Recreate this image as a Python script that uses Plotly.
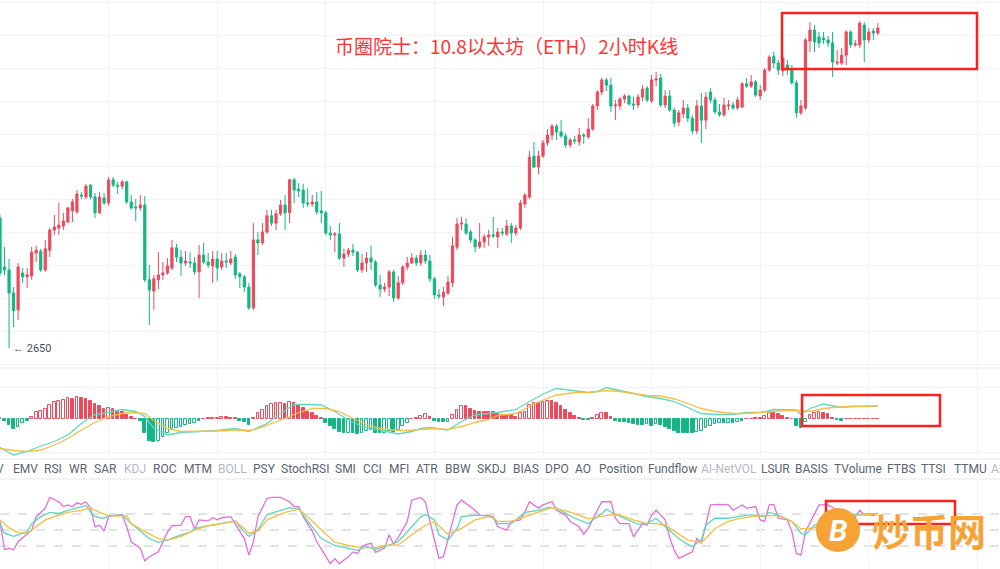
import plotly.graph_objects as go

# ---------------- data ----------------
idx = list(range(195))

opens = [3045,2897,2888,2818,2767,2879,2867,2870,2939,2945,2888,2948,3009,3015,3021,3033,3067,3064,3115,3109,
         3145,3109,3061,3106,3091,3161,3145,3142,3155,3094,3079,3076,3085,2858,2824,2858,2873,2879,2894,2955,
         2927,2909,2912,2909,2882,2933,2912,2900,2921,2897,2915,2909,2927,2876,2867,2836,2773,2979,2970,3003,
         3052,3030,3058,3085,3061,3161,3133,3130,3091,3088,3094,3067,3061,3000,2994,2997,2924,2936,2948,2942,
         2888,2909,2924,2912,2842,2830,2836,2882,2803,2849,2897,2909,2924,2909,2933,2915,2861,2812,2806,2818,
         2849,2957,3027,3027,3003,2979,2958,2973,2988,2994,2988,3003,2997,3021,3000,3015,3088,3109,3233,3200,
         3233,3273,3297,3324,3306,3294,3267,3282,3276,3297,3291,3315,3385,3427,3464,3448,3385,3385,3406,3415,
         3391,3388,3412,3439,3400,3464,3470,3388,3415,3373,3336,3361,3379,3348,3309,3385,3342,3427,3403,3367,
         3358,3385,3388,3379,3382,3452,3445,3458,3415,3433,3494,3536,3515,3491,3509,3494,3455,3364,3379,3582,
         3615,3594,3591,3585,3576,3515,3515,3539,3609,3570,3570,3630,3585,3612,3606]
highs = [3055,2958,2921,2836,2909,2894,2894,2958,2961,2952,2979,3015,3055,3091,3061,3079,3103,3130,3124,3149,
         3149,3121,3124,3121,3170,3170,3155,3161,3158,3115,3103,3115,3112,2903,2873,2942,2912,2924,2979,2967,
         2948,2945,2942,2927,2964,2970,2939,2945,2945,2939,2939,2945,2936,2882,2873,2849,3030,3003,3030,3070,
         3070,3070,3100,3115,3164,3167,3152,3149,3136,3115,3124,3127,3067,3021,3003,3030,2952,2955,2967,2945,
         2936,2942,2961,2918,2873,2849,2888,2888,2870,2903,2927,2939,2933,2948,2948,2933,2867,2830,2836,2870,
         2988,3045,3049,3045,3009,2985,3030,2997,3009,3049,3015,3015,3039,3030,3024,3100,3121,3249,3276,3249,
         3282,3315,3330,3330,3342,3303,3288,3294,3318,3303,3348,3391,3433,3470,3470,3470,3403,3412,3421,3418,
         3412,3421,3448,3445,3479,3488,3482,3433,3433,3379,3373,3403,3391,3358,3403,3424,3427,3439,3412,3391,
         3409,3403,3397,3412,3458,3470,3479,3464,3449,3500,3539,3549,3524,3533,3524,3509,3464,3403,3591,3639,
         3630,3609,3609,3597,3609,3555,3561,3615,3615,3585,3642,3639,3621,3621,3636]
lows = [2870,2873,2651,2715,2736,2849,2833,2858,2912,2882,2882,2927,2994,2994,3009,3030,3033,3058,3103,3103,
        3103,3045,3058,3085,3082,3139,3118,3133,3088,3070,3036,3067,2851,2721,2767,2830,2858,2873,2888,2912,
        2870,2900,2894,2873,2803,2906,2894,2849,2855,2888,2894,2903,2861,2833,2821,2767,2767,2933,2964,2997,
        3021,3009,3052,3009,3030,3091,3109,3076,3079,3079,3055,3030,2994,2979,2942,2918,2897,2927,2930,2882,
        2879,2882,2888,2836,2806,2821,2809,2791,2797,2842,2888,2906,2900,2900,2906,2851,2800,2800,2779,2812,
        2836,2948,3009,2994,2970,2942,2952,2955,2961,2985,2955,2991,2991,2970,2991,3009,3076,3103,3197,3179,
        3227,3264,3282,3282,3288,3258,3258,3270,3264,3270,3285,3309,3373,3418,3430,3367,3342,3373,3394,3385,
        3373,3379,3400,3397,3394,3445,3382,3379,3367,3321,3324,3348,3336,3300,3300,3273,3315,3394,3361,3352,
        3352,3373,3373,3373,3379,3439,3439,3412,3403,3427,3488,3500,3479,3476,3479,3449,3349,3358,3373,3549,
        3549,3561,3573,3564,3473,3509,3509,3509,3561,3564,3561,3518,3576,3585,3600]
closes = [2879,2888,2818,2764,2897,2867,2873,2942,2948,2888,2952,3009,3018,3024,3036,3076,3094,3118,3112,3142,
          3109,3061,3109,3091,3161,3145,3142,3155,3094,3076,3076,3085,2858,2827,2861,2873,2879,2900,2955,2927,
          2909,2915,2909,2882,2933,2912,2903,2921,2894,2915,2912,2921,2873,2867,2836,2773,2979,2970,3003,3052,
          3030,3058,3085,3061,3161,3130,3127,3091,3088,3094,3064,3061,3000,2994,2997,2924,2936,2948,2942,2888,
          2909,2924,2912,2842,2830,2836,2882,2803,2849,2897,2909,2924,2909,2933,2915,2861,2812,2809,2821,2851,
          2961,3027,3030,3000,2979,2958,2973,2988,2994,2991,3003,3000,3021,3000,3015,3091,3115,3230,3200,3233,
          3273,3297,3324,3306,3294,3267,3282,3279,3297,3294,3315,3385,3427,3464,3448,3385,3388,3406,3415,3391,
          3388,3412,3436,3403,3464,3467,3388,3415,3373,3333,3364,3379,3348,3309,3385,3342,3412,3403,3367,3358,
          3388,3388,3379,3403,3452,3445,3458,3418,3433,3494,3533,3515,3494,3530,3494,3455,3364,3385,3585,3615,
          3579,3576,3585,3576,3518,3518,3539,3609,3570,3573,3636,3585,3609,3606,3621]

# MACD (histogram per candle, DIF / DEA read at sampled candles)
macd_hist = [3,-3,-11,-20,-15,-8,-3,5,14,17, 21,29,34,37,39,42,41,44,42,41,
             37,30,27,20,23,20,17,14,9,4, 1,-3,-27,-43,-45,-43,-35,-28,-20,-18,
             -15,-11,-9,-8,-3,1,2,3,3,5, 4,3,3,-3,-5,-11,3,12,19,27,
             30,32,33,30,35,33,29,22,15,12, 7,2,-8,-13,-20,-25,-28,-27,-27,-29,
             -27,-23,-21,-27,-28,-27,-23,-25,-21,-13, -8,1,3,7,11,5,-3,-6,-6,-5,
             9,19,27,27,20,17,15,15,15,14, 11,9,9,9,5,13,15,29,32,32,
             35,37,37,33,27,19,13,7,3,-1, -1,3,9,12,12,5,-3,-5,-5,-8,
             -9,-11,-11,-10,-13,-10,-11,-15,-20,-23, -27,-28,-28,-28,-25,-23,-18,-13,-9,-8,
             -8,-7,-7,-5,-3,1,1,3,2,7, 12,12,10,7,3,1,-13,-18,-5,9,
             12,14,13,10,3,-2,-3,1,1,1, 1,1,1,1,1]
dif_x = [0,3,6,9,12,15,18,21,24,27,30,32,34,37,40,44,48,52,55,56,59,62,65,68,71,74,77,80,83,85,
         88,91,93,95,97,99,102,105,108,110,114,117,120,123,127,130,132,134,137,140,143,146,149,152,155,158,162,165,168,171,
         174,176,177,179,182,184,186,188,190,194]
dif_v = [-57,-72,-65,-54,-45,-32,-9,9,13,19,15,5,-19,-32,-27,-25,-23,-19,-25,-21,-9,11,29,29,28,15,-2,-15,-21,-25,
         -30,-25,-19,-17,-20,-22,-5,8,11,13,19,35,50,61,57,53,55,63,57,51,45,41,35,23,11,9,9,13,13,19,
         19,18,9,21,30,26,23,25,25,26]
dea_x = [0,3,6,9,12,15,18,21,24,27,29,32,34,37,40,44,48,52,55,57,60,63,66,69,72,75,78,81,84,87,
         90,93,96,99,102,105,108,110,114,117,120,123,127,130,134,137,140,143,146,149,152,155,158,162,165,168,171,174,177,179,
         182,184,188,191,194]
dea_v = [-59,-63,-65,-62,-52,-39,-22,-7,5,11,13,11,-3,-19,-25,-25,-24,-22,-23,-19,-9,1,13,21,21,15,1,-11,-19,-22,
         -23,-21,-19,-21,-15,-7,-1,7,11,25,38,48,53,53,57,55,51,47,46,40,31,21,15,11,11,13,15,17,17,15,
         21,23,25,25,26]

# KDJ
k_x = [0,1,3,4,6,7,9,11,13,15,17,19,20,21,23,24,27,29,31,33,35,37,40,42,43,46,49,52,53,55,
       57,59,62,64,66,67,69,71,74,77,79,81,83,85,88,91,93,94,96,97,99,101,102,105,108,109,110,113,114,116,
       119,121,123,125,127,130,131,133,134,136,138,141,143,145,147,150,152,153,155,156,158,161,163,166,169,170,172,175,177,178,
       180,183,186,189,192,194]
k_v = [62,44,38,41,47,62,75,83,81,87,91,96,84,75,72,77,78,62,48,34,27,31,41,46,53,58,62,67,56,38,
       50,79,87,92,89,78,58,34,21,16,12,19,14,19,28,56,75,79,69,41,31,53,75,78,76,72,62,62,69,83,
       87,92,91,81,72,62,69,81,89,79,72,61,62,72,56,34,23,19,31,59,72,72,75,79,75,83,78,66,44,41,
       59,72,78,79,79,81]
d_x = [0,2,4,6,8,10,13,15,18,20,22,24,26,28,29,32,35,37,40,43,46,49,52,54,55,57,59,63,66,68,
       71,74,77,80,83,85,88,91,94,96,98,99,102,105,108,109,110,113,116,119,122,125,128,130,133,135,137,140,143,145,
       147,150,152,155,156,158,161,163,166,169,172,175,177,180,182,184,187,190,194]
d_v = [69,54,45,44,56,69,78,83,87,91,83,77,76,77,62,47,34,31,38,50,58,62,66,53,44,48,69,83,89,75,
       50,27,21,17,17,21,22,41,59,66,50,42,53,69,75,73,66,66,75,84,92,86,78,71,75,79,78,69,62,62,
       59,42,31,27,34,53,66,71,75,77,77,66,52,54,66,72,76,78,80]
j_x = [0,1,2,3,4,7,8,10,11,13,14,15,16,17,18,19,20,21,22,23,24,25,26,27,28,29,31,32,33,35,
       36,37,38,40,41,42,43,44,46,47,48,49,51,52,54,55,56,57,59,60,62,64,65,66,67,69,70,73,74,75,
       77,78,79,80,81,82,83,85,86,87,88,90,91,93,94,95,96,97,98,99,101,102,103,105,106,108,109,110,112,113,
       115,116,117,119,120,122,123,125,126,128,129,130,132,133,135,136,137,139,140,142,143,144,145,147,148,149,150,152,153,154,
       155,157,159,161,162,164,165,167,168,169,170,171,172,174,175,176,177,178,180,181,183,185,187,189,190,191,192,193,194]
j_v = [66,13,16,13,28,50,75,91,111,103,94,97,94,101,98,103,91,56,59,48,75,77,78,79,56,28,16,-8,0,9,
       29,46,58,59,75,75,52,69,67,73,69,73,75,62,34,3,28,75,109,111,111,103,94,94,75,48,28,-13,-4,-13,
       0,9,6,19,23,25,8,16,41,23,36,66,106,111,103,66,34,-3,0,34,97,106,100,87,78,77,75,56,50,66,
       69,84,103,91,97,103,87,78,66,56,42,53,87,103,103,72,62,62,37,62,59,78,87,69,36,12,-3,6,9,34,
       25,97,98,97,87,97,91,94,69,66,97,98,72,69,47,6,3,47,81,97,97,87,78,75,87,78,79,77,81]

tabs = ["V", "EMV", "RSI", "WR", "SAR", "KDJ", "ROC", "MTM", "BOLL", "PSY", "StochRSI", "SMI", "CCI", "MFI",
        "ATR", "BBW", "SKDJ", "BIAS", "DPO", "AO", "Position", "Fundflow", "AI-NetVOL", "LSUR", "BASIS",
        "TVolume", "FTBS", "TTSI", "TTMU", "AI"]
tab_left = [-6, 10.7, 42.3, 67.3, 92.3, 121.7, 150.7, 181.7, 216, 250.7, 279.3, 332.7, 360.7, 386.7,
            414.3, 442.7, 475, 510.7, 542.7, 573.3, 597.3, 645.7, 699.3, 758.7, 793.3, 832.3, 885, 919.3, 951.7, 989.3]
tab_dim = {"KDJ", "BOLL", "AI-NetVOL", "AI"}

title_text = "币圈院士：10.8以太坊（ETH）2小时K线"
low_label = "← 2650"

# ---------------- style ----------------
W, H = 1000, 569
RED = "#EC4B5B"
GREEN = "#13B784"
GRID = "#F1F3F6"
SEP = "#E4E7EB"


def py(px):
    return 1 - px / H


fig = go.Figure()

fig.add_trace(go.Candlestick(
    x=idx, open=opens, high=highs, low=lows, close=closes,
    increasing=dict(line=dict(color=RED, width=1), fillcolor=RED),
    decreasing=dict(line=dict(color=GREEN, width=1), fillcolor=GREEN),
    whiskerwidth=0, xaxis="x", yaxis="y", showlegend=False, hoverinfo="skip"))

fills, lines = [], []
prev = 0
for v in macd_hist:
    col = RED if v >= 0 else GREEN
    hollow = v > prev
    lines.append(col)
    fills.append("rgba(255,255,255,1)" if hollow and abs(v) > 3 else col)
    prev = v

fig.add_trace(go.Bar(x=idx, y=macd_hist, width=0.6,
                     marker=dict(color=fills, line=dict(color=lines, width=1)),
                     xaxis="x2", yaxis="y2", showlegend=False, hoverinfo="skip"))
fig.add_trace(go.Scatter(x=dif_x, y=dif_v, mode="lines", line=dict(color="#62D7BF", width=1.3),
                         xaxis="x2", yaxis="y2", showlegend=False, hoverinfo="skip"))
fig.add_trace(go.Scatter(x=dea_x, y=dea_v, mode="lines", line=dict(color="#F6BF45", width=1.3),
                         xaxis="x2", yaxis="y2", showlegend=False, hoverinfo="skip"))

fig.add_trace(go.Scatter(x=j_x, y=j_v, mode="lines", line=dict(color="#E56ED8", width=1.3),
                         xaxis="x3", yaxis="y3", showlegend=False, hoverinfo="skip"))
fig.add_trace(go.Scatter(x=k_x, y=k_v, mode="lines", line=dict(color="#5ED6BC", width=1.3),
                         xaxis="x3", yaxis="y3", showlegend=False, hoverinfo="skip"))
fig.add_trace(go.Scatter(x=d_x, y=d_v, mode="lines", line=dict(color="#F6BD3F", width=1.3),
                         xaxis="x3", yaxis="y3", showlegend=False, hoverinfo="skip"))

xgrid = list(range(24, 221, 24))
xcommon = dict(range=[0, 1000 / 4.525], showgrid=True, gridcolor=GRID, gridwidth=1,
               tickvals=xgrid, showticklabels=False, zeroline=False, showline=False,
               ticks="", fixedrange=True)

shapes = []
# pane separators
for ypx in [368, 459, 479]:
    shapes.append(dict(type="line", xref="paper", yref="paper", x0=0, x1=1, y0=py(ypx), y1=py(ypx),
                       line=dict(color=SEP, width=1)))
# KDJ reference lines
for lv in [80, 50, 20]:
    shapes.append(dict(type="line", xref="paper", yref="y3", x0=0, x1=1, y0=lv, y1=lv,
                       line=dict(color="#C4C8CE", width=1, dash="dash"), layer="below"))
# red highlight boxes
for (x0, y0, x1, y1) in [(782, 13, 977, 69), (802, 395, 940, 426), (826, 501, 955, 524)]:
    shapes.append(dict(type="rect", xref="paper", yref="paper", x0=x0 / W, x1=x1 / W, y0=py(y1), y1=py(y0),
                       line=dict(color="#FF2020", width=2.5), fillcolor="rgba(0,0,0,0)", layer="above"))
# watermark circle
shapes.append(dict(type="circle", xref="paper", yref="paper", x0=816 / W, x1=860 / W, y0=py(552), y1=py(508),
                   line=dict(width=0), fillcolor="#F6A234", layer="above"))

annotations = [
    dict(text=title_text, xref="paper", yref="paper", x=506 / W, y=py(46), showarrow=False,
         font=dict(family="Noto Sans CJK SC", size=19, color="#FF3535"), xanchor="center", yanchor="middle"),
    dict(text=low_label, xref="x", yref="y", x=2, y=2650, showarrow=False, xanchor="left", yanchor="middle",
         xshift=2, font=dict(family="Roboto", size=11, color="#4A4F57")),
    dict(text="<b><i>B</i></b>", xref="paper", yref="paper", x=838 / W, y=py(530), showarrow=False,
         font=dict(family="Roboto", size=30, color="white"), xanchor="center", yanchor="middle"),
    dict(text="<b>炒币网</b>", xref="paper", yref="paper", x=929 / W, y=py(529), showarrow=False,
         font=dict(family="Noto Sans CJK SC", size=38, color="#F6A335"), xanchor="center", yanchor="middle"),
]
for t, xl in zip(tabs, tab_left):
    annotations.append(dict(text=t, xref="paper", yref="paper", x=xl / W, y=py(469), showarrow=False,
                            xanchor="left", yanchor="middle",
                            font=dict(family="Roboto", size=12,
                                      color="#B4B9C1" if t in tab_dim else "#5B636E")))

fig.update_layout(
    width=W, height=H, margin=dict(l=0, r=0, t=0, b=0),
    paper_bgcolor="white", plot_bgcolor="white", bargap=0,
    xaxis=dict(**xcommon, anchor="y", rangeslider=dict(visible=False)),
    xaxis2=dict(**xcommon, anchor="y2", matches="x"),
    xaxis3=dict(**xcommon, anchor="y3", matches="x"),
    yaxis=dict(domain=[py(368), 1], range=[2590.8, 3706.1], tickvals=list(range(2600, 3701, 100)),
               showticklabels=False, gridcolor=GRID, zeroline=False, fixedrange=True),
    yaxis2=dict(domain=[py(458), py(368)], range=[-78, 102], tickvals=[-66, 64], showticklabels=False,
                gridcolor=GRID, zeroline=False, fixedrange=True),
    yaxis3=dict(domain=[0, py(480)], range=[-23.1, 143.75], showgrid=False, showticklabels=False,
                zeroline=False, fixedrange=True),
    shapes=shapes, annotations=annotations, showlegend=False,
)

fig.write_html("out.html", config={"displayModeBar": False})
